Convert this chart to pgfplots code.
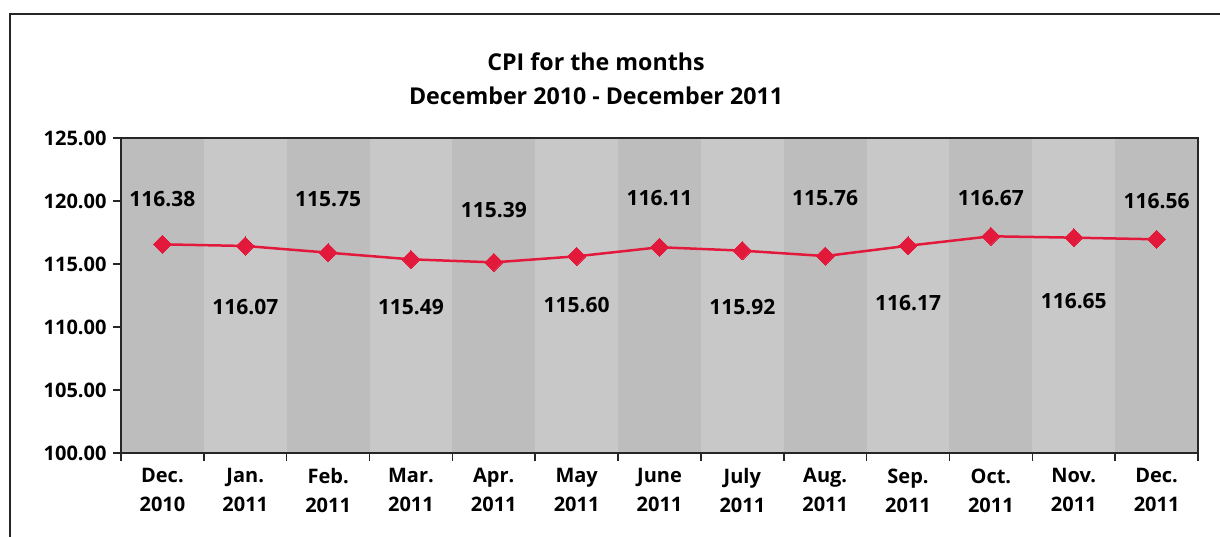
\documentclass[border=0pt]{standalone}
\usepackage{pgfplots}
\pgfplotsset{compat=1.18}
\usepackage{fontspec}
\setmainfont{Open Sans}
\definecolor{cpired}{RGB}{227,25,60}
\definecolor{bgdark}{RGB}{189,189,189}
\definecolor{bglight}{RGB}{200,200,200}
\begin{document}
\begin{tikzpicture}[x=1pt,y=1pt]
\path[use as bounding box] (0,0) rectangle (1220,536);
\draw[line width=2pt, black!85] (10,-10) -- (10,522) -- (1240,522);
\node[align=center, font=\fontsize{23.2}{34}\selectfont\bfseries] at (596,457) {CPI for the months\\December 2010 - December 2011};
\begin{axis}[
  at={(121pt,83pt)}, anchor=south west,
  scale only axis, width=1077pt, height=315pt,
  xmin=-0.5, xmax=12.5, ymin=100, ymax=125,
  ytick={100,105,...,125},
  xtick={0,...,12},
  xticklabels={{Dec.\\2010},{Jan.\\2011},{Feb.\\2011},{Mar.\\2011},{Apr.\\2011},{May\\2011},{June\\2011},{July\\2011},{Aug.\\2011},{Sep.\\2011},{Oct.\\2011},{Nov.\\2011},{Dec.\\2011}},
  minor xtick={-0.5,0.5,...,12.5},
  major x tick style={draw=none},
  minor x tick style={line width=1.5pt, black!85},
  minor tick length=8pt,
  major tick length=8pt,
  y tick style={line width=1.5pt, black!85},
  tick align=outside,
  xtick pos=bottom, ytick pos=left,
  axis line style={line width=1.5pt, black!85},
  axis on top,
  /pgf/number format/fixed,
  /pgf/number format/fixed zerofill,
  /pgf/number format/precision=2,
  /pgf/number format/assume math mode=true,
  tick label style={font=\fontsize{20}{29}\selectfont\bfseries},
  xticklabel style={align=center, yshift=-4pt},
  yticklabel style={xshift=-3pt},
  axis background/.style={fill=bglight},
  clip=false,
]
\fill[bgdark] (axis cs:-0.5,100) rectangle (axis cs:0.5,125);
\fill[bgdark] (axis cs:1.5,100) rectangle (axis cs:2.5,125);
\fill[bgdark] (axis cs:3.5,100) rectangle (axis cs:4.5,125);
\fill[bgdark] (axis cs:5.5,100) rectangle (axis cs:6.5,125);
\fill[bgdark] (axis cs:7.5,100) rectangle (axis cs:8.5,125);
\fill[bgdark] (axis cs:9.5,100) rectangle (axis cs:10.5,125);
\fill[bgdark] (axis cs:11.5,100) rectangle (axis cs:12.5,125);
\addplot[cpired, line width=2.5pt, mark=square*, mark size=6.4pt, mark options={rotate=45, fill=cpired, draw=cpired, line width=0pt}] coordinates {
(0,116.56) (1,116.43) (2,115.90) (3,115.37) (4,115.13) (5,115.61) (6,116.33)
(7,116.06) (8,115.63) (9,116.45) (10,117.20) (11,117.09) (12,116.96)
};
\addplot[draw=none, mark=none, nodes near coords, point meta=explicit symbolic,
  every node near coord/.append style={anchor=center, font=\fontsize{21}{26}\selectfont\bfseries, black}]
  table[meta=label] {
x y label
0 120.16 116.38
1 111.59 116.07
2 120.16 115.75
3 111.61 115.49
4 119.29 115.39
5 111.75 115.60
6 120.24 116.11
7 111.61 115.92
8 120.24 115.76
9 111.93 116.17
10 120.24 116.67
11 112.06 116.65
12 120.02 116.56
};
\end{axis}
\end{tikzpicture}
\end{document}
